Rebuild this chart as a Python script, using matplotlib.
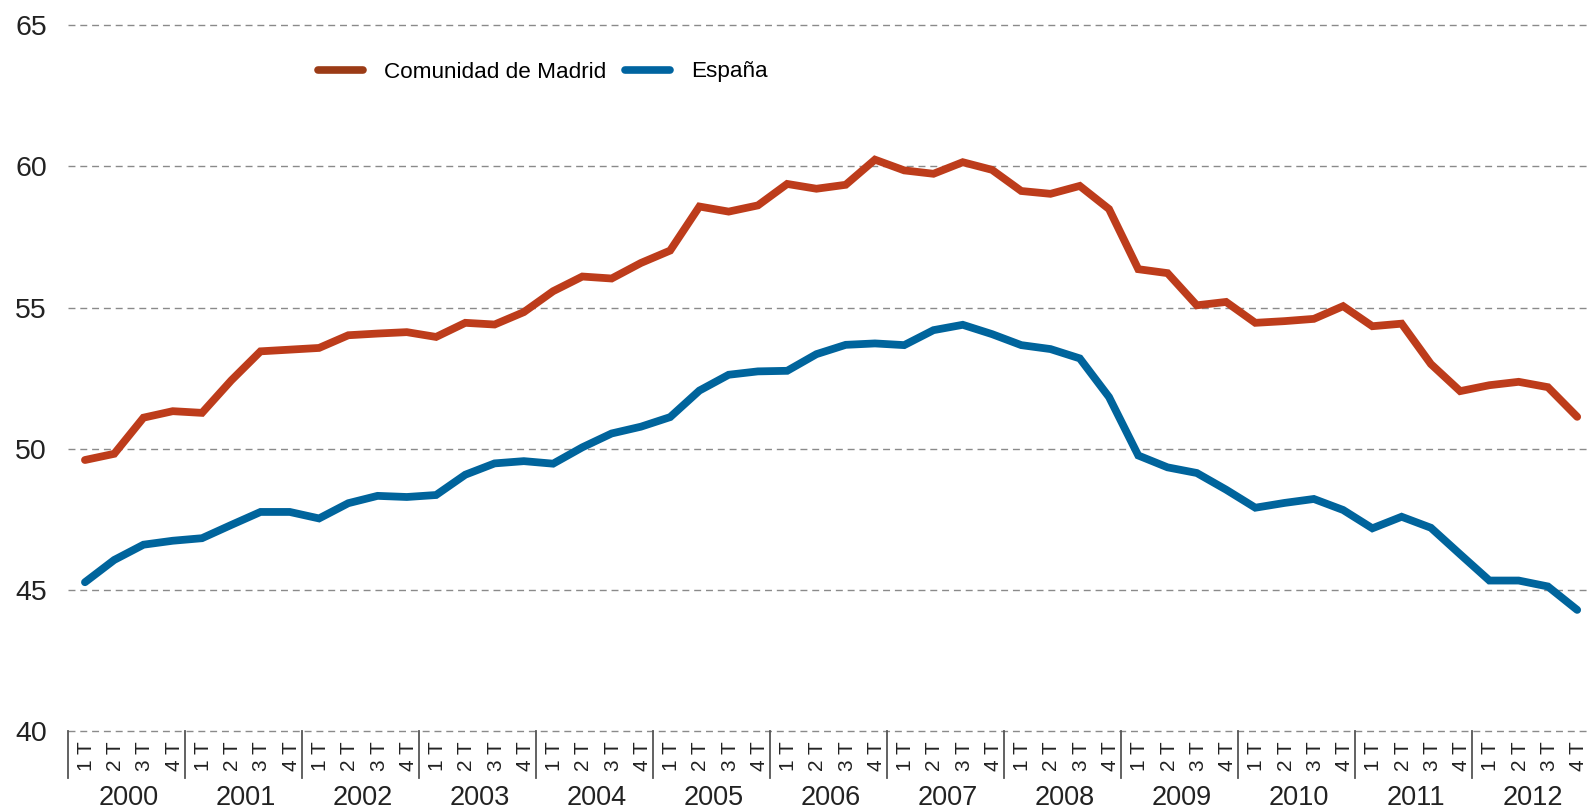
import matplotlib
matplotlib.use("Agg")
import matplotlib.pyplot as plt
from matplotlib.lines import Line2D
import matplotlib.transforms as mtransforms

plt.rcParams['font.family'] = ['Liberation Sans', 'DejaVu Sans']

years = [str(y) for y in range(2000, 2013)]
quarters = ["1 T", "2 T", "3 T", "4 T"]

madrid = [49.60, 49.82, 51.10, 51.33, 51.27, 52.42, 53.45, 53.51, 53.57, 54.02,
          54.08, 54.13, 53.96, 54.46, 54.40, 54.84, 55.58, 56.10, 56.03, 56.58,
          57.02, 58.58, 58.40, 58.62, 59.38, 59.21, 59.35, 60.24, 59.86, 59.74,
          60.15, 59.88, 59.13, 59.03, 59.31, 58.49, 56.36, 56.22, 55.08, 55.20,
          54.46, 54.52, 54.60, 55.05, 54.34, 54.43, 53.00, 52.04, 52.25, 52.37,
          52.18, 51.13]
espana = [45.27, 46.06, 46.60, 46.74, 46.83, 47.30, 47.76, 47.76, 47.53, 48.07,
          48.33, 48.29, 48.36, 49.08, 49.48, 49.56, 49.47, 50.05, 50.54, 50.78,
          51.12, 52.06, 52.62, 52.74, 52.76, 53.35, 53.68, 53.73, 53.67, 54.20,
          54.39, 54.06, 53.67, 53.53, 53.20, 51.83, 49.76, 49.34, 49.14, 48.55,
          47.91, 48.08, 48.22, 47.83, 47.18, 47.59, 47.20, 46.26, 45.33, 45.33,
          45.12, 44.29]
series_names = ["Comunidad de Madrid", "España"]
yticks = [40, 45, 50, 55, 60, 65]

W, H = 1588, 809
fig = plt.figure(figsize=(W / 100, H / 100), dpi=100)
left_px, right_px = 67.7, 1588
top_px, bot_px = 25.3, 731.0
ax = fig.add_axes([left_px / W, 1 - bot_px / H, (right_px - left_px) / W, (bot_px - top_px) / H])

x = list(range(len(madrid)))
c_mad = "#BD3C1B"
c_esp = "#00649C"
ax.plot(x, madrid, color=c_mad, lw=5.6, solid_joinstyle="miter", solid_capstyle="round", zorder=3)
ax.plot(x, espana, color=c_esp, lw=5.6, solid_joinstyle="miter", solid_capstyle="round", zorder=3)

ax.set_xlim(-0.59, 51.37)
ax.set_ylim(40, 65)
for s in ax.spines.values():
    s.set_visible(False)
ax.set_xticks([])
ax.set_yticks(yticks)
ax.set_yticklabels([str(v) for v in yticks], fontsize=20.5, color="#222222")
ax.tick_params(axis="y", length=0, pad=15)
for v in yticks:
    ax.axhline(v, color="#8a8a8a", lw=1.0, ls=(0, (5, 3.5)), clip_on=False, zorder=1)

trans = mtransforms.blended_transform_factory(ax.transData, ax.transAxes)
ax_h = bot_px - top_px
sep_bottom = (bot_px - 778) / ax_h
for k in range(len(years)):
    xs = -0.59 + 4 * k
    ax.plot([xs, xs], [0, sep_bottom], transform=trans, color="#555555", lw=1.3, clip_on=False)
    for q, ql in enumerate(quarters):
        ax.text(4 * k + q + 0.05, (bot_px - 756) / ax_h, ql, transform=trans, rotation=90,
                ha="center", va="center", fontsize=15, color="#222222")
    ax.text(4 * k + 1.5, (bot_px - 798) / ax_h, years[k], transform=trans,
            ha="center", va="center", fontsize=19.5, color="#222222")

handles = [Line2D([], [], color="#9B3B16", lw=5.5, solid_capstyle="round"),
           Line2D([], [], color="#0064A0", lw=5.5, solid_capstyle="round")]
fig.legend(handles, series_names, loc="center left", bbox_to_anchor=(318 / W, 1 - 72 / H),
           ncol=2, frameon=False, fontsize=16.2, handlelength=2.0, handletextpad=0.95,
           columnspacing=0.8, borderpad=0, borderaxespad=0)

fig.savefig("out.png", dpi=100)
